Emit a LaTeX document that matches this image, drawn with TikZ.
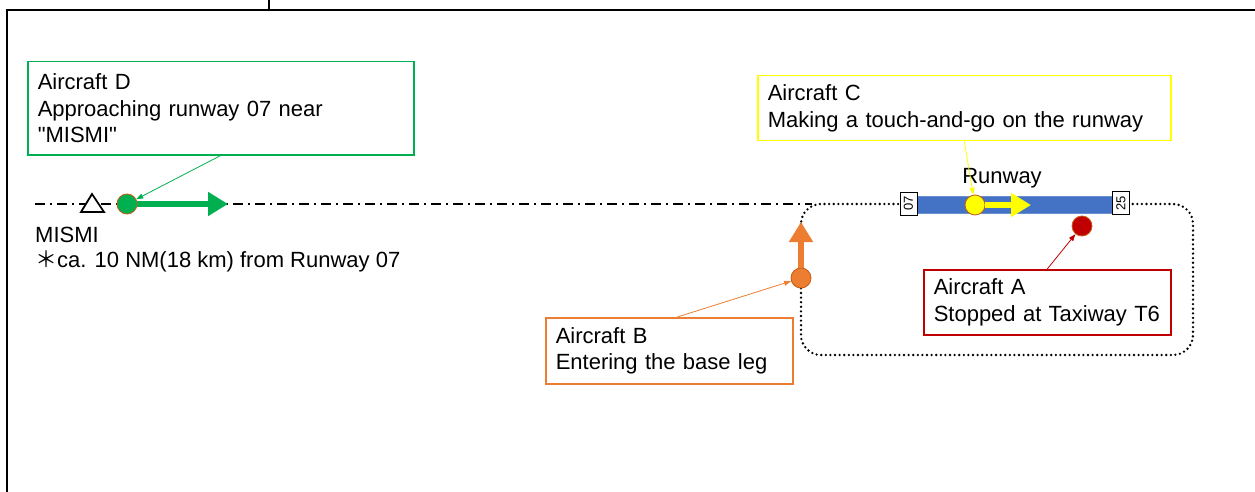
\documentclass[tikz,border=0pt]{standalone}
\usepackage{fontspec}
\setmainfont{Liberation Sans}[Ligatures=TeXOff]
\newfontfamily\cjk{Noto Sans CJK JP}
\usetikzlibrary{arrows.meta}
\definecolor{dgreen}{RGB}{0,176,80}
\definecolor{borange}{RGB}{237,125,49}
\definecolor{cyellow}{RGB}{255,255,0}
\definecolor{ared}{RGB}{192,0,0}
\definecolor{rwblue}{RGB}{68,114,196}
\definecolor{ptedge}{RGB}{197,90,17}
\begin{document}
\begin{tikzpicture}[x=1pt, y=-1pt,
        every node/.style={font=\fontsize{22}{26.5}\selectfont},
        infobox/.style={draw, line width=1.5pt, anchor=north west, align=left, inner xsep=10pt, inner ysep=0pt},
        plane/.style={circle, draw=ptedge, line width=0.8pt, minimum size=20pt, inner sep=0pt},
        rwnum/.style={draw, fill=white, line width=0.8pt, rotate=90, minimum width=23pt, minimum height=17pt, inner sep=0pt, font=\fontsize{13}{13}\selectfont},
        move/.style={line width=6pt, -{Triangle[length=20pt, width=23pt]}},
        pointer/.style={line width=0.8pt, -{Triangle[length=7pt, width=5pt]}}]
        \useasboundingbox (0,0) rectangle (1255,492);
        \draw[line width=1.5pt] (7,492) -- (7,10) -- (1255,10);
        \draw[line width=1.5pt] (269,0) -- (269,10);
        \coordinate (lineW) at (35,204);
        \coordinate (lineE) at (812,204);
        \draw[line width=2pt, dash pattern=on 10pt off 5pt on 2pt off 5pt] (lineW) -- (lineE);
        \draw[line width=2.6pt, line cap=round, dash pattern=on 0pt off 4.6pt, rounded corners=20pt] (801,204) rectangle (1193,355);
        \node[fill=rwblue, draw=rwblue!80!white, minimum width=196pt, minimum height=17pt, inner sep=0pt] (runway) at (1015,204.5) {};
        \node[rwnum] (rw07) at (908.5,203.5) {07};
        \node[rwnum] (rw25) at (1121,203) {25};
        \node[anchor=base, inner sep=0pt] (rwlabel) at (1002,183) {Runway};
        \draw[line width=1.8pt, fill=white] (92,194) -- (81,212) -- (104,212) -- cycle;
        \node[anchor=north west, align=left, inner sep=0pt, font=\fontsize{22}{24.5}\selectfont] (mismi) at (35,227) {MISMI\\{\cjk ＊}ca. 10 NM(18 km) from Runway 07};
        \node[plane, fill=dgreen] (planeD) at (127,204) {};
        \node[plane, fill=borange] (planeB) at (801,278) {};
        \node[plane, fill=cyellow] (planeC) at (975,205) {};
        \node[plane, fill=ared] (planeA) at (1082,226) {};
        \coordinate (headD) at (228,204);
        \coordinate (headB) at (801,222);
        \coordinate (headC) at (1031,205);
        \draw[move, dgreen] (planeD) -- (headD);
        \draw[move, borange] (planeB) -- (headB);
        \draw[move, cyellow] (planeC) -- (headC);
        \node[infobox, draw=dgreen, text width=366pt, minimum height=93pt] (boxD) at (27,61) {Aircraft D\\Approaching runway 07 near\\"MISMI"};
        \node[infobox, draw=cyellow, text width=393pt, minimum height=65pt] (boxC) at (757,75) {Aircraft C\\Making a touch-and-go on the runway};
        \node[infobox, draw=ared, text width=227pt, minimum height=65pt] (boxA) at (923,269) {Aircraft A\\Stopped at Taxiway T6};
        \node[infobox, draw=borange, text width=227pt, minimum height=66pt] (boxB) at (545,317) {Aircraft B\\Entering the base leg};
        \draw[pointer, dgreen] (boxD.south) -- (planeD);
        \draw[pointer, cyellow] (boxC.south) -- (planeC);
        \draw[pointer, ared] (boxA.north) -- (planeA);
        \draw[pointer, borange] ([xshift=8pt]boxB.north) -- (planeB);
    \end{tikzpicture}
\end{document}
